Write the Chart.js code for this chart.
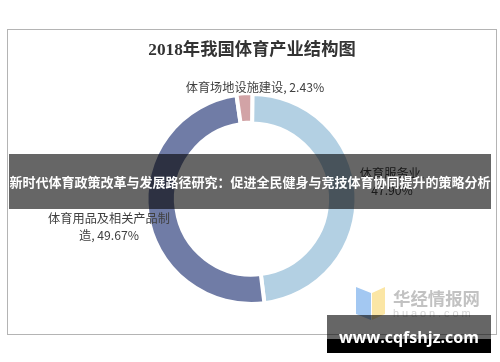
<!DOCTYPE html>
<html>
<head>
<meta charset="utf-8">
<script src="https://cdn.jsdelivr.net/npm/chart.js@4/dist/chart.umd.min.js"></script>
<style>
  html, body { margin: 0; padding: 0; background: #fff; }
  #wrap { position: relative; width: 500px; height: 362px; overflow: hidden; font-family: "Noto Sans CJK SC", sans-serif; filter: blur(.35px); }
  #frame { position: absolute; left: 7px; top: 29px; width: 490px; height: 306px; border: 1.5px solid #b4b4b4; box-sizing: border-box; }
  #taskChart { position: absolute; left: 0; top: 0; }
  .box { position: absolute; white-space: nowrap; }
  #band { left: 9px; top: 154px; width: 482px; height: 55px; background: rgba(0,0,0,.6); color: #fff; font-size: 13px; font-weight: 700; line-height: 55px; text-align: center; }
  #site { left: 327px; top: 315px; width: 164px; height: 38px; background: linear-gradient(rgba(0,0,0,.6) 0, rgba(0,0,0,.6) 24px, #000 24px); color: #fff; font: 700 16px/44px "Open Sans", sans-serif; text-align: center; }
  #wmText { left: 393px; top: 285px; color: #c2c2c2; font-size: 17.4px; font-weight: 700; }
  #wmSub { left: 393px; top: 307px; color: #d6d6d6; font: 11px "Liberation Sans", sans-serif; letter-spacing: 2.9px; }
  #logoL { left: 356px; top: 287px; width: 15px; height: 33px; background: #a3c8f2; clip-path: polygon(0 0, 100% 18%, 100% 100%, 0 82%); }
  #logoR { left: 372px; top: 287px; width: 13px; height: 33px; background: #fbe6a5; clip-path: polygon(0 18%, 100% 0, 100% 82%, 0 100%); }
</style>
</head>
<body>
<div id="wrap">
  <div id="frame"></div>
  <canvas id="taskChart" width="500" height="362"></canvas>
  <div class="box" id="logoL"></div>
  <div class="box" id="logoR"></div>
  <div class="box" id="wmText">华经情报网</div>
  <div class="box" id="wmSub">huaon.com</div>
  <div class="box" id="band">新时代体育政策改革与发展路径研究：促进全民健身与竞技体育协同提升的策略分析</div>
  <div class="box" id="site">www.cqfshjz.com</div>
</div>
<script>
const chartTitle = "2018年我国体育产业结构图";
const categories = ["体育服务业", "体育用品及相关产品制造", "体育场地设施建设"];
const shares = [47.90, 49.67, 2.43];
const sliceColors = ["#b3d0e3", "#707ca6", "#d2a3a6"];
const labelLines = [
  ["体育服务业,", "47.90%"],
  ["体育用品及相关产品制", "造, 49.67%"],
  ["体育场地设施建设, 2.43%"]
];
const labelSpots = [[392, 173], [109, 218], [255, 87]];

// slice labels and the title sit on the canvas, under the overlay divs
const textPlugin = {
  id: 'sliceText',
  afterDraw(chart) {
    const ctx = chart.ctx;
    ctx.save();
    ctx.textAlign = 'center';
    ctx.textBaseline = 'middle';
    ctx.fillStyle = '#333';
    ctx.font = 'bold 17.3px "Liberation Serif", "Noto Sans CJK SC"';
    ctx.fillText(chartTitle, 252, 51);
    ctx.fillStyle = '#404040';
    ctx.font = '12.2px "Noto Sans CJK SC"';
    labelLines.forEach((lines, i) => {
      lines.forEach((line, j) => {
        ctx.fillText(line, labelSpots[i][0], labelSpots[i][1] + j * 17.5);
      });
    });
    ctx.restore();
  }
};

new Chart(document.getElementById("taskChart"), {
  type: 'doughnut',
  plugins: [textPlugin],
  data: {
    labels: categories,
    datasets: [{
      data: shares,
      backgroundColor: sliceColors,
      borderColor: '#fff',
      borderWidth: 4,
      offset: [0, 0, 2]
    }]
  },
  options: {
    responsive: false,
    animation: false,
    cutout: '72%',
    rotation: 0.5,
    layout: { padding: { left: 143, right: 140, top: 91, bottom: 55 } },
    plugins: { legend: { display: false }, tooltip: { enabled: false } }
  }
});
</script>
</body>
</html>
